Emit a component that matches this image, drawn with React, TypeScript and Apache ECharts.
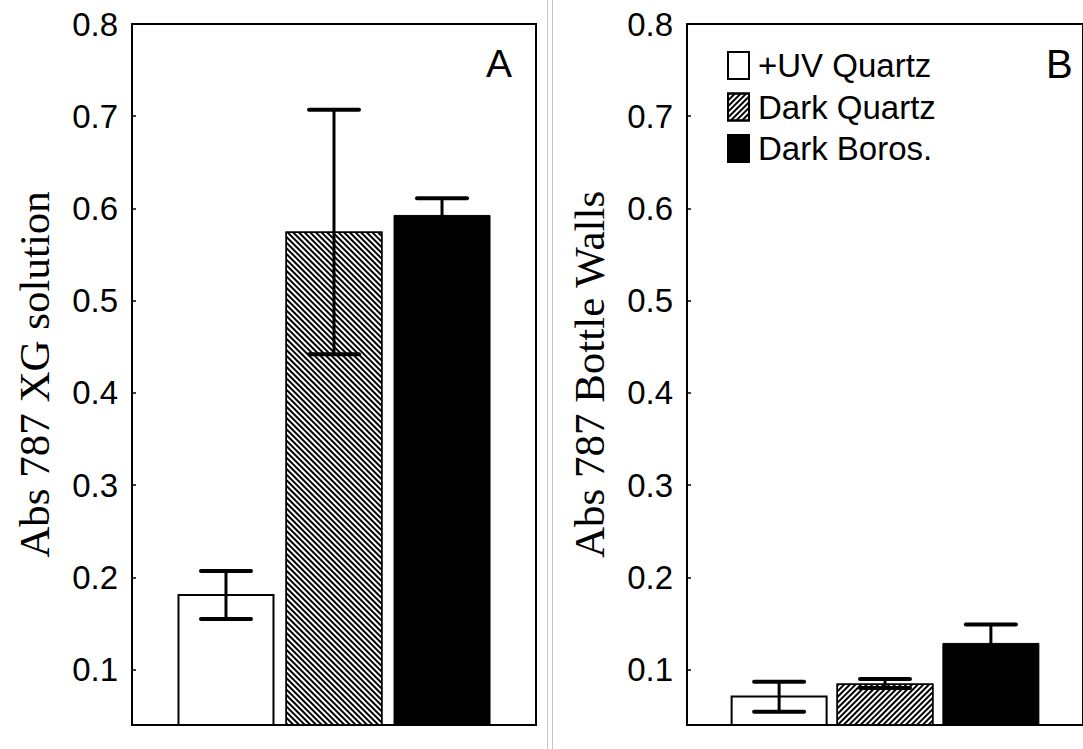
import React, { useEffect, useRef } from "react";
import * as echarts from "echarts";

const categories = ["+UV Quartz", "Dark Quartz", "Dark Boros."];
const xPositions = [1, 2, 3];
const valuesA = [0.182, 0.575, 0.593];
const lowA = [0.155, 0.442, 0.575];
const highA = [0.207, 0.707, 0.611];
const valuesB = [0.072, 0.085, 0.129];
const lowB = [0.0545, 0.08, 0.109];
const highB = [0.087, 0.09, 0.149];
const yTickValues = [0.1, 0.2, 0.3, 0.4, 0.5, 0.6, 0.7, 0.8];
const yMin = 0.04;
const yMax = 0.8;
const nameA = "Abs 787 XG solution";
const nameB = "Abs 787 Bottle Walls";

const SANS = "'Liberation Sans', Arial, sans-serif";
const SERIF = "'Liberation Serif', 'Times New Roman', serif";

// back-slash hatch: horizontal stripes rotated
const hatchBack = {
  symbol: "rect",
  symbolSize: 1,
  symbolKeepAspect: false,
  color: "#000",
  backgroundColor: "#fff",
  dashArrayX: [1, 0],
  dashArrayY: [1.4, 1.6],
  rotation: Math.PI / 4,
};
// forward-slash hatch: vertical stripes rotated
const hatchFwd = {
  symbol: "rect",
  symbolSize: 1,
  symbolKeepAspect: false,
  color: "#000",
  backgroundColor: "#fff",
  dashArrayX: [1.4, 1.6],
  dashArrayY: [1, 0],
  rotation: Math.PI / 4,
};

function barStyles(decal: any) {
  return [
    { color: "#fff", borderColor: "#000", borderWidth: 2 },
    { color: "#fff", borderColor: "#000", borderWidth: 1.5, decal },
    { color: "#000", borderColor: "#000", borderWidth: 1 },
  ];
}

export default function App() {
  const ref = useRef<HTMLDivElement>(null);
  useEffect(() => {
    if (!ref.current) return;
    const chart = echarts.init(ref.current, undefined, { renderer: "svg" });

    const makeGrid = (left: number) => ({
      left,
      top: 24,
      width: 404,
      height: 701,
      show: true,
      borderColor: "#000",
      borderWidth: 2,
      backgroundColor: "transparent",
      containLabel: false,
    });

    const makeX = (gi: number) => ({
      type: "value",
      gridIndex: gi,
      min: 0.13,
      max: 3.87,
      axisLabel: { show: false },
      axisTick: { show: false },
      splitLine: { show: false },
      axisLine: { show: true, lineStyle: { color: "#000", width: 2 } },
    });

    const makeY = (gi: number, name: string) => ({
      type: "value",
      gridIndex: gi,
      min: yMin,
      max: yMax,
      name,
      nameLocation: "middle",
      nameGap: 76,
      nameTextStyle: { fontFamily: SERIF, fontSize: 43, color: "#000" },
      splitLine: { show: false },
      axisLine: { show: true, lineStyle: { color: "#000", width: 2 } },
      axisTick: {
        show: true,
        inside: true,
        length: 4,
        customValues: yTickValues.slice(0, 7),
        lineStyle: { color: "#000", width: 1.5 },
      },
      axisLabel: {
        show: true,
        customValues: yTickValues,
        margin: 14,
        fontFamily: SANS,
        fontSize: 33,
        color: "#000",
        formatter: (v: number) => v.toFixed(1),
      },
    });

    const series: any[] = [];
    const addPanel = (
      gi: number,
      prefix: string,
      vals: number[],
      lows: number[],
      highs: number[],
      decal: any
    ) => {
      const styles = barStyles(decal);
      categories.forEach((c, i) => {
        series.push({
          type: "bar",
          name: prefix + c,
          xAxisIndex: gi,
          yAxisIndex: gi,
          barWidth: 97,
          barGap: "-100%",
          itemStyle: styles[i],
          data: [[xPositions[i], vals[i]]],
          z: 2,
        });
      });
      series.push({
        type: "custom",
        name: prefix + "err",
        xAxisIndex: gi,
        yAxisIndex: gi,
        z: 5,
        data: xPositions.map((x, i) => [x, lows[i], highs[i]]),
        renderItem: (params: any, api: any) => {
          const x = api.value(0);
          const lo = api.value(1);
          const hi = api.value(2);
          const pHi = api.coord([x, hi]);
          const pLo = api.coord([x, lo]);
          const hw = 25;
          const st = { stroke: "#000", lineWidth: 4, lineCap: "round" };
          return {
            type: "group",
            children: [
              {
                type: "line",
                shape: { x1: pHi[0], y1: pHi[1], x2: pLo[0], y2: pLo[1] },
                style: { stroke: "#000", lineWidth: 3 },
              },
              {
                type: "line",
                shape: { x1: pHi[0] - hw, y1: pHi[1], x2: pHi[0] + hw, y2: pHi[1] },
                style: st,
              },
              {
                type: "line",
                shape: { x1: pLo[0] - hw, y1: pLo[1], x2: pLo[0] + hw, y2: pLo[1] },
                style: st,
              },
            ],
          };
        },
      });
    };

    // Panel B first so its styles define the legend
    addPanel(1, "", valuesB, lowB, highB, hatchFwd);
    addPanel(0, "A ", valuesA, lowA, highA, hatchBack);

    chart.setOption({
      animation: false,
      backgroundColor: "#fff",
      grid: [makeGrid(132), makeGrid(687)],
      xAxis: [makeX(0), makeX(1)],
      yAxis: [makeY(0, nameA), makeY(1, nameB)],
      legend: {
        data: categories,
        orient: "vertical",
        left: 727,
        top: 49,
        padding: 0,
        icon: "rect",
        itemWidth: 21,
        itemHeight: 27,
        itemGap: 8.5,
        selectedMode: false,
        textStyle: {
          fontFamily: SANS,
          fontSize: 33,
          color: "#000",
          padding: [0, 0, 0, 4],
        },
      },
      graphic: [
        {
          type: "line",
          shape: { x1: 547.5, y1: 0, x2: 547.5, y2: 749 },
          style: { stroke: "#c4c4c4", lineWidth: 1 },
        },
        {
          type: "line",
          shape: { x1: 552.5, y1: 0, x2: 552.5, y2: 749 },
          style: { stroke: "#c4c4c4", lineWidth: 1 },
        },
        {
          type: "text",
          x: 486,
          y: 63,
          style: {
            text: "A",
            fontFamily: SANS,
            fontSize: 39,
            fill: "#000",
            verticalAlign: "middle",
            align: "left",
          },
        },
        {
          type: "text",
          x: 1046,
          y: 64,
          style: {
            text: "B",
            fontFamily: SANS,
            fontSize: 40,
            fill: "#000",
            verticalAlign: "middle",
            align: "left",
          },
        },
      ],
      series,
    });

    return () => chart.dispose();
  }, []);

  return (
    <div
      ref={ref}
      style={{ position: "absolute", left: 0, top: 0, width: 1083, height: 749 }}
    />
  );
}
